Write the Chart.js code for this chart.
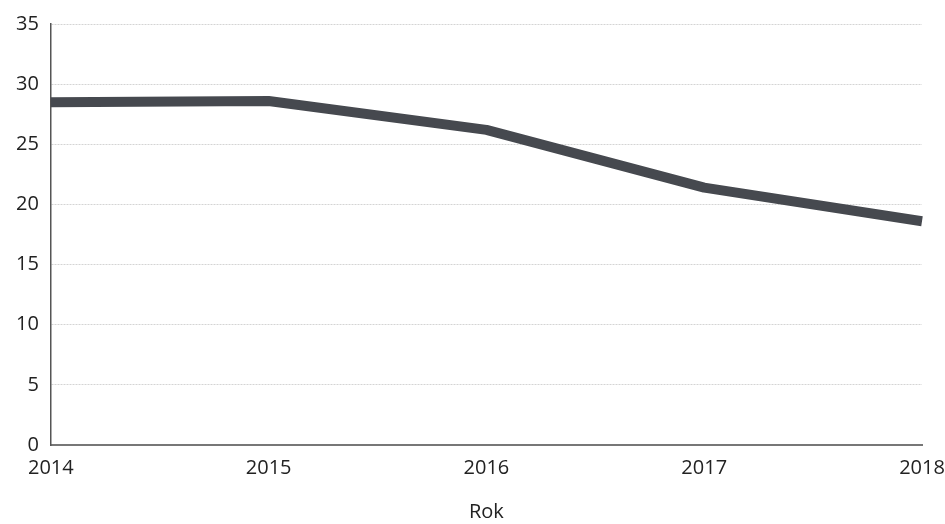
<!DOCTYPE html>
<html>
<head>
<meta charset="utf-8">
<script src="https://cdn.jsdelivr.net/npm/chart.js@4"></script>
<style>
  html, body { margin: 0; padding: 0; background: #fff; }
  #wrap { width: 945px; height: 524px; }
</style>
</head>
<body>
<div id="wrap"><canvas id="myChart"></canvas></div>
<script>
// data
const years = ["2014", "2015", "2016", "2017", "2018"];
const values = [28.5, 28.6, 26.2, 21.4, 18.6];
const yTicks = [0, 5, 10, 15, 20, 25, 30, 35];

const ctx = document.getElementById("myChart").getContext("2d");
const myChart = new Chart(ctx, {
  type: "line",
  data: {
    labels: years,
    datasets: [
      {
        label: "Rok",
        data: values,
        borderColor: "#46494f",
        borderWidth: 10,
        pointRadius: 0,
        tension: 0,
        borderCapStyle: "butt",
        borderJoinStyle: "round",
        fill: false,
      },
    ],
  },
  options: {
    responsive: true,
    maintainAspectRatio: false,
    animation: false,
    layout: { padding: { left: 4, right: 0, top: 22, bottom: 0 } },
    plugins: { legend: { display: false }, tooltip: { enabled: false } },
    scales: {
      x: {
        offset: false,
        // let the last label hang closer to the page edge
        afterFit: (axis) => {
          axis.paddingRight = 23;
        },
        grid: { display: false, drawTicks: false },
        border: { color: "#777", width: 2 },
        ticks: {
          padding: 11,
          maxRotation: 0,
          color: "#222",
          font: { family: "Open Sans", size: 20 },
        },
        title: {
          display: true,
          text: "Rok",
          color: "#222",
          padding: { top: 9, bottom: 0 },
          font: { family: "Open Sans", size: 20 },
        },
      },
      y: {
        min: 0,
        max: 35,
        afterBuildTicks: (axis) => {
          axis.ticks = yTicks.map((v) => ({ value: v }));
        },
        grid: { color: "#d4d4d4", lineWidth: 1, drawTicks: false },
        border: { color: "#555", width: 1.5, dash: [2, 1] },
        ticks: {
          padding: 12,
          color: "#222",
          font: { family: "Open Sans", size: 20 },
        },
      },
    },
  },
});
</script>
</body>
</html>
